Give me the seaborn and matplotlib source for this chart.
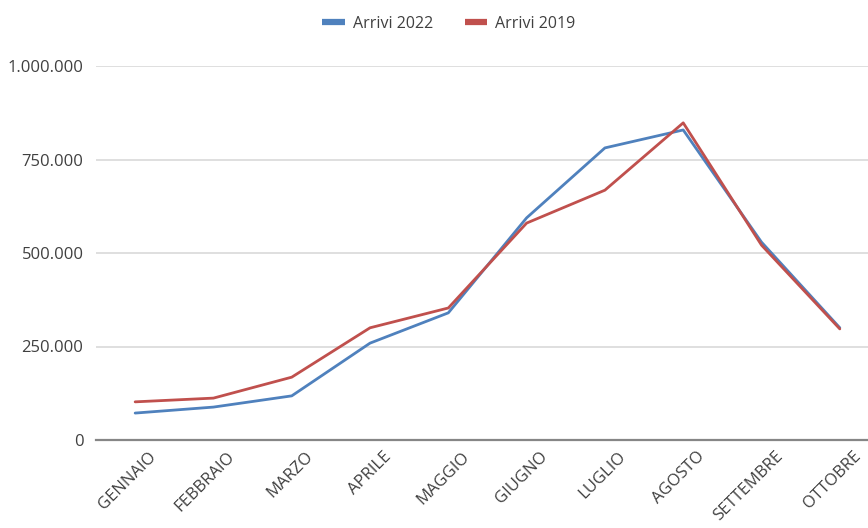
import numpy as np
import pandas as pd
import matplotlib
matplotlib.use("Agg")
import matplotlib.pyplot as plt
import matplotlib.transforms as mtrans
import seaborn as sns
from matplotlib.ticker import FuncFormatter
from matplotlib.lines import Line2D

# dati
mesi = ["GENNAIO", "FEBBRAIO", "MARZO", "APRILE", "MAGGIO",
        "GIUGNO", "LUGLIO", "AGOSTO", "SETTEMBRE", "OTTOBRE"]
arrivi_2022 = [72000, 88000, 118000, 259000, 340000, 594000, 781000, 829000, 529000, 300000]
arrivi_2019 = [102000, 112000, 168000, 300000, 353000, 580000, 668000, 848000, 521000, 297000]

df = pd.DataFrame({
    "mese": mesi * 2,
    "arrivi": arrivi_2022 + arrivi_2019,
    "serie": ["Arrivi 2022"] * len(mesi) + ["Arrivi 2019"] * len(mesi),
})
df["x"] = np.tile(np.arange(len(mesi)), 2)

sns.set_style("white")
plt.rcParams["font.family"] = ["Open Sans", "DejaVu Sans"]

fig = plt.figure(figsize=(8.68, 5.28), dpi=100)
ax = fig.add_axes([96 / 868, 88 / 528, (868 - 96) / 868, 374 / 528])

colori = {"Arrivi 2022": "#4f81bd", "Arrivi 2019": "#c0504d"}
sns.lineplot(data=df, x="x", y="arrivi", hue="serie", palette=colori,
             linewidth=2.0, ax=ax, legend=False)

ax.set_xlim(-0.5, 9.36)
ax.set_ylim(0, 1000000)
ax.set_yticks([0, 250000, 500000, 750000, 1000000])
ax.yaxis.set_major_formatter(FuncFormatter(lambda v, p: f"{int(v):,}".replace(",", ".")))
ax.grid(axis="y", color="#d9d9d9", linewidth=1.2)
ax.set_axisbelow(True)
for s in ["top", "right", "left"]:
    ax.spines[s].set_visible(False)
ax.spines["bottom"].set_color("#868686")
ax.spines["bottom"].set_linewidth(1.6)

ax.set_xticks(range(len(mesi)))
ax.set_xticklabels(mesi, rotation=45, ha="right", rotation_mode="anchor")
ax.tick_params(axis="both", length=0, labelcolor="#404040")
ax.tick_params(axis="x", pad=9, labelsize=12)
ax.tick_params(axis="y", pad=9, labelsize=12)
# sposta le etichette a destra come nel grafico originale
offset = mtrans.ScaledTranslation(13 / 100, 4 / 100, fig.dpi_scale_trans)
for lbl in ax.get_xticklabels():
    lbl.set_transform(lbl.get_transform() + offset)
ax.set_xlabel("")
ax.set_ylabel("")

handles = [Line2D([], [], color=colori[k], linewidth=4.5, solid_capstyle="butt") for k in ["Arrivi 2022", "Arrivi 2019"]]
fig.legend(handles, ["Arrivi 2022", "Arrivi 2019"], loc="center", bbox_to_anchor=(0.517, 0.955),
           ncol=2, frameon=False, fontsize=11.5, handlelength=1.4, handletextpad=0.5,
           columnspacing=2.0, labelcolor="#404040")

fig.savefig("out.png", dpi=100)
